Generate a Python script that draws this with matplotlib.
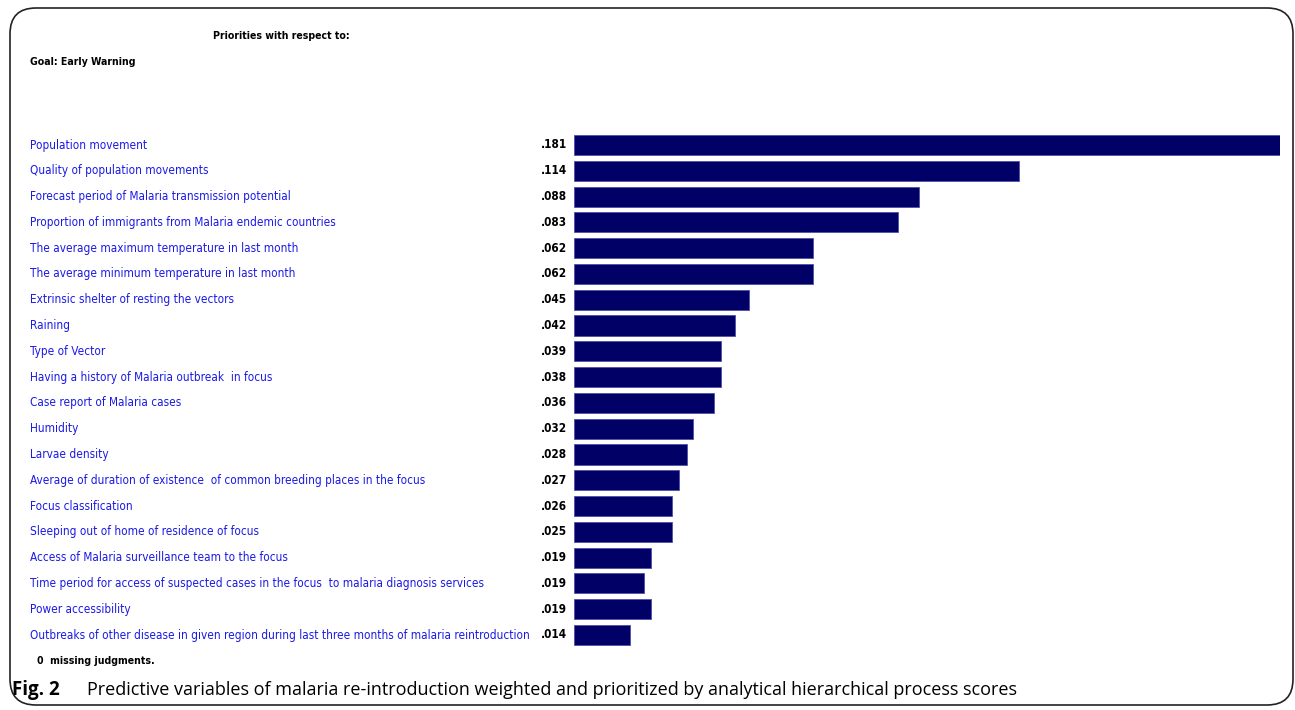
import matplotlib
matplotlib.use('Agg')
import matplotlib.pyplot as plt
from matplotlib.patches import FancyBboxPatch

# variables and AHP weights (bar lengths, printed labels as shown)
variables = [
    "Population movement",
    "Quality of population movements",
    "Forecast period of Malaria transmission potential",
    "Proportion of immigrants from Malaria endemic countries",
    "The average maximum temperature in last month",
    "The average minimum temperature in last month",
    "Extrinsic shelter of resting the vectors",
    "Raining",
    "Type of Vector",
    "Having a history of Malaria outbreak  in focus",
    "Case report of Malaria cases",
    "Humidity",
    "Larvae density",
    "Average of duration of existence  of common breeding places in the focus",
    "Focus classification",
    "Sleeping out of home of residence of focus",
    "Access of Malaria surveillance team to the focus",
    "Time period for access of suspected cases in the focus  to malaria diagnosis services",
    "Power accessibility",
    "Outbreaks of other disease in given region during last three months of malaria reintroduction",
]
weights = [0.181, 0.114, 0.0885, 0.083, 0.0613, 0.0613, 0.0449, 0.0413, 0.0377, 0.0377,
           0.0359, 0.0305, 0.029, 0.0269, 0.0251, 0.0251, 0.0197, 0.0179, 0.0197, 0.0144]
printed = [".181", ".114", ".088", ".083", ".062", ".062", ".045", ".042", ".039", ".038",
           ".036", ".032", ".028", ".027", ".026", ".025", ".019", ".019", ".019", ".014"]

W, H = 1295, 710
fig = plt.figure(figsize=(W / 100, H / 100), dpi=100)
rend = fig.canvas.get_renderer()

def fy(y):
    return 1 - y / H

lab_kw = dict(family=['DejaVu Sans'], fontstretch='condensed')

# fit font size so the longest label spans the same width as in the picture
probe = fig.text(0, 0, variables[-1], fontsize=10, **lab_kw)
fs = 10 * 495 / probe.get_window_extent(rend).width
probe.remove()

# outer rounded frame
frame = FancyBboxPatch((10 / W, fy(705)), 1283 / W, 697 / H,
                       boxstyle="round,pad=0,rounding_size=0.02",
                       transform=fig.transFigure, fill=False, edgecolor='#222222', lw=1.2,
                       mutation_aspect=W / H)
fig.patches.append(frame)

n = len(variables)
row = (635 - 145) / (n - 1)
top = 145 - row / 2
bot = 635 + row / 2
ax = fig.add_axes([574 / W, fy(bot), 706 / W, (bot - top) / H])
ax.barh(range(n), weights, height=0.78, color='#000066', edgecolor='#5050a8', lw=0.6)
ax.set_xlim(0, 0.181)
ax.set_ylim(n - 0.5, -0.5)
ax.axis('off')

for i, (v, p) in enumerate(zip(variables, printed)):
    y = fy(145 + i * row)
    fig.text(30 / W, y, v, color='#1a1ae6', fontsize=fs, va='center', ha='left', **lab_kw)
    fig.text(567 / W, y, p, color='black', fontsize=fs, va='center', ha='right',
             fontweight='bold', **lab_kw)

fig.text(213 / W, fy(36), "Priorities with respect to:", fontsize=fs * 0.9, fontweight='bold',
         va='center', ha='left', **lab_kw)
fig.text(30 / W, fy(62), "Goal: Early Warning", fontsize=fs * 0.9, fontweight='bold',
         va='center', ha='left', **lab_kw)
fig.text(37 / W, fy(661), "0  missing judgments.", fontsize=fs * 0.9, fontweight='bold',
         va='center', ha='left', **lab_kw)

fig.text(12 / W, fy(690), "Fig. 2", fontsize=13.5, fontweight='bold', va='center',
         ha='left', family='Open Sans')
fig.text(87 / W, fy(690), "Predictive variables of malaria re-introduction weighted and "
         "prioritized by analytical hierarchical process scores", fontsize=13.0, va='center',
         ha='left', family='Open Sans')

fig.savefig('out.png', dpi=100)
